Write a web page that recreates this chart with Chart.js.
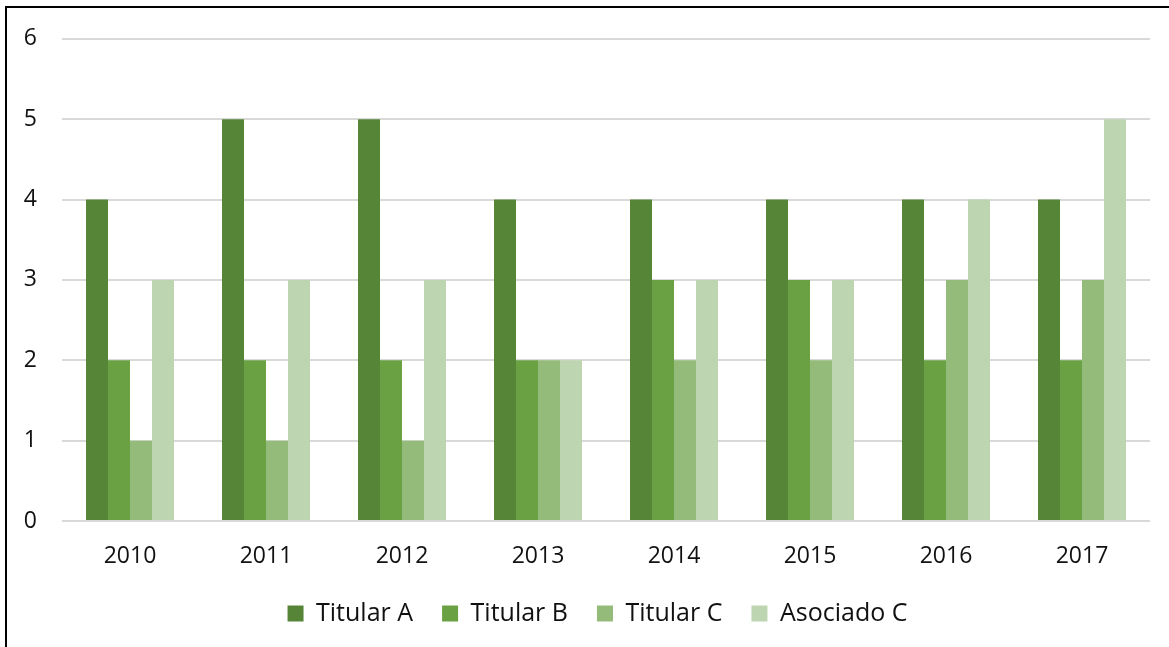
<!DOCTYPE html>
<html>
<head>
<meta charset="utf-8">
<script src="https://cdn.jsdelivr.net/npm/chart.js@4"></script>
<style>
  html, body { margin: 0; padding: 0; background: #fff; overflow: hidden; width: 1169px; height: 647px; }
  #frame { position: absolute; left: 5px; top: 6px; width: 1300px; height: 800px; border-left: 2px solid #000; border-top: 2px solid #000; }
  #wrap { position: absolute; left: 0; top: 0; width: 1169px; height: 636px; }
</style>
</head>
<body>
<div id="frame"></div>
<div id="wrap"><canvas id="c"></canvas></div>
<script>
const categories = ['2010', '2011', '2012', '2013', '2014', '2015', '2016', '2017'];
const seriesNames = ['Titular A', 'Titular B', 'Titular C', 'Asociado C'];
const titularA  = [4, 5, 5, 4, 4, 4, 4, 4];
const titularB  = [2, 2, 2, 2, 3, 3, 2, 2];
const titularC  = [1, 1, 1, 2, 2, 2, 3, 3];
const asociadoC = [3, 3, 3, 2, 3, 3, 4, 5];
const yTicks = [0, 1, 2, 3, 4, 5, 6];

const colors = ['#578538', '#6AA143', '#94BB7A', '#BED5B1'];
const seriesValues = [titularA, titularB, titularC, asociadoC];

const FONT = "'Open Sans', 'Liberation Sans', sans-serif";

// shift the legend block to the right to match the reference placement
const legendShift = {
  id: 'legendShift',
  afterLayout(chart) {
    const lg = chart.legend;
    if (lg) { lg.left += 20; lg.right += 20; }
  }
};

new Chart(document.getElementById('c'), {
  type: 'bar',
  data: {
    labels: categories,
    datasets: seriesNames.map((name, i) => ({
      label: name,
      data: seriesValues[i],
      backgroundColor: colors[i],
      borderWidth: 0,
      categoryPercentage: 0.647,
      barPercentage: 1.0
    }))
  },
  plugins: [legendShift],
  options: {
    responsive: true,
    maintainAspectRatio: false,
    animation: false,
    devicePixelRatio: 1,
    layout: { padding: { left: 5, right: 19, top: 37, bottom: 0 } },
    plugins: {
      tooltip: { enabled: false },
      legend: {
        position: 'bottom',
        labels: {
          boxWidth: 16,
          boxHeight: 16,
          padding: 29,
          color: '#111',
          font: { family: FONT, size: 25 }
        }
      }
    },
    scales: {
      x: {
        grid: { display: false, drawTicks: false },
        border: { display: false },
        ticks: { color: '#111', font: { family: FONT, size: 23 }, padding: 22, maxRotation: 0 },
        afterFit: (s) => { s.height = 51; }
      },
      y: {
        min: 0,
        max: 6,
        afterBuildTicks: (s) => { s.ticks = yTicks.map(v => ({ value: v })); },
        grid: { color: '#d9d9d9', lineWidth: 2, drawTicks: false },
        border: { display: false },
        ticks: { color: '#111', font: { family: FONT, size: 23 }, padding: 25 },
        afterFit: (s) => { s.width = 57; }
      }
    }
  }
});
</script>
</body>
</html>
